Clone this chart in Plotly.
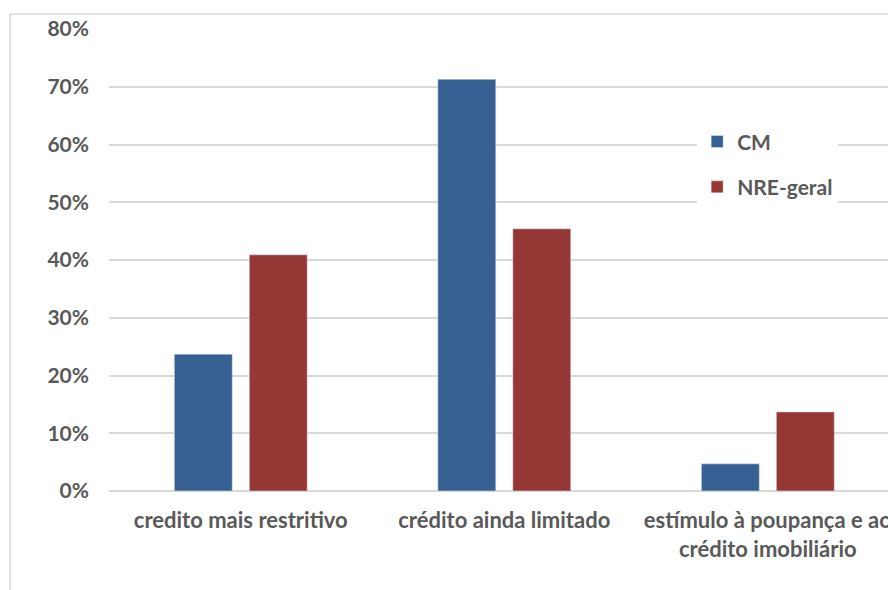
import plotly.graph_objects as go

categories = ["credito mais restritivo", "crédito ainda limitado",
              "estímulo à poupança e ao<br>crédito imobiliário"]
cm_values = [0.237, 0.713, 0.047]
nre_values = [0.409, 0.454, 0.137]
series_names = ["CM", "NRE-geral"]
y_ticks = [0, 0.1, 0.2, 0.3, 0.4, 0.5, 0.6, 0.7, 0.8]

BLUE = "#376092"
RED = "#953735"
GRID = "#d9d9d9"
TEXT = "#595959"
FONT = "Lato, 'Open Sans', sans-serif"

fig = go.Figure()
fig.add_trace(go.Bar(x=categories, y=cm_values, name=series_names[0],
                     marker_color=BLUE, legendgroup="a"))
fig.add_trace(go.Bar(x=categories, y=nre_values, name=series_names[1],
                     marker_color=RED, legendgroup="b"))

fig.update_layout(
    width=888, height=590,
    margin=dict(l=109, r=0, t=29, b=99, autoexpand=False),
    paper_bgcolor="white", plot_bgcolor="white",
    barmode="group", bargap=0.431, bargroupgap=0.227,
    font=dict(family=FONT, size=21, color=TEXT),
    showlegend=True,
    legend=dict(x=0.755, y=0.80, xanchor="left", yanchor="top",
                bgcolor="white", tracegroupgap=15,
                font=dict(family=FONT, size=21, color=TEXT, weight="bold"),
                traceorder="grouped"),
    xaxis=dict(range=[-0.5, 2.456], showgrid=False, showline=False,
               ticks="", ticklabelstandoff=14,
               tickfont=dict(family=FONT, size=22, color=TEXT, weight="bold")),
    yaxis=dict(range=[0, 0.8], tickvals=y_ticks, tickformat=".0%",
               showgrid=True, gridcolor=GRID, gridwidth=1.5,
               zeroline=True, zerolinecolor=GRID, zerolinewidth=2,
               showline=False, ticks="", ticklabelstandoff=19,
               tickfont=dict(family=FONT, size=21, color=TEXT, weight="bold")),
    shapes=[dict(type="rect", xref="paper", yref="paper",
                 x0=-0.127, x1=1.2, y0=-0.4, y1=1.0325,
                 line=dict(color=GRID, width=1.5), fillcolor="rgba(0,0,0,0)",
                 layer="below")],
)

fig.write_html("out.html")
